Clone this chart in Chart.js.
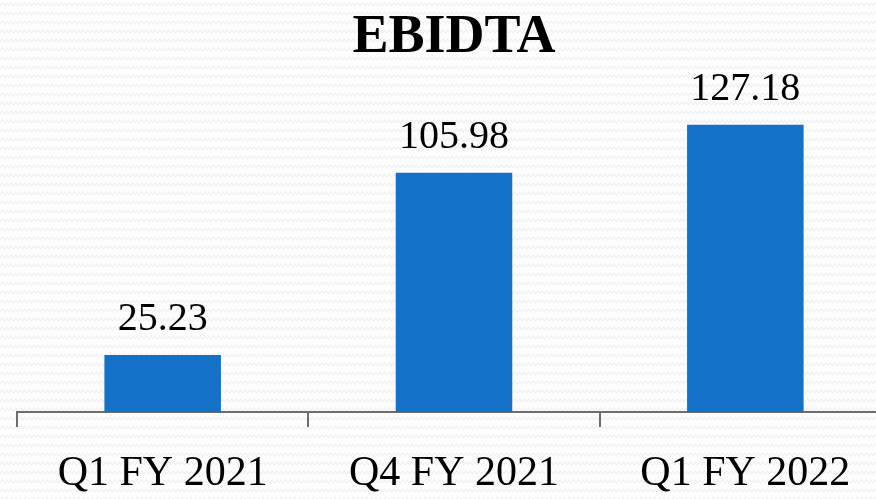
<!DOCTYPE html>
<html>
<head>
<meta charset="utf-8">
<script src="https://cdn.jsdelivr.net/npm/chart.js@4.4.1/dist/chart.umd.min.js"></script>
<style>
  html, body { margin: 0; padding: 0; overflow: hidden; }
  body {
    width: 876px; height: 499px;
    background-color: #fdfdfd;
    background-image: url("data:image/svg+xml;utf8,<svg xmlns='http://www.w3.org/2000/svg' width='9' height='9'><polyline points='0,6 2.25,3 4.5,6 6.75,3 9,6' fill='none' stroke='%23efefef' stroke-width='1.2'/></svg>");
  }
  /* the chart runs a bit past the right and bottom edges, like the cropped original */
  #wrap { position: relative; width: 893px; height: 521px; }
</style>
</head>
<body>
<div id="wrap"><canvas id="main-chart"></canvas></div>
<script>
// values
const categories = ["Q1 FY 2021", "Q4 FY 2021", "Q1 FY 2022"];
const ebitda = [25.23, 105.98, 127.18];
const chartTitle = "EBIDTA";

const FONT = "'Palatino Linotype', 'Book Antiqua', Palatino, 'Liberation Serif', serif";

// draws the value over each bar, outside the chart area clip
const valueLabels = {
  id: "valueLabels",
  afterDatasetsDraw(chart) {
    const ctx = chart.ctx;
    const meta = chart.getDatasetMeta(0);
    ctx.save();
    ctx.font = "40px " + FONT;
    ctx.fillStyle = "#000";
    ctx.textAlign = "center";
    ctx.textBaseline = "alphabetic";
    meta.data.forEach((bar, i) => {
      ctx.fillText(ebitda[i].toFixed(2), bar.x, bar.y - 25);
    });
    ctx.restore();
  }
};

const ctx = document.getElementById("main-chart").getContext("2d");
new Chart(ctx, {
  type: "bar",
  data: {
    labels: categories,
    datasets: [{
      data: ebitda,
      backgroundColor: "#1570c8",
      borderWidth: 0,
      categoryPercentage: 0.8,
      barPercentage: 0.5
    }]
  },
  options: {
    responsive: true,
    maintainAspectRatio: false,
    animation: false,
    layout: { padding: { left: 17, right: 2, top: 0, bottom: 0 } },
    plugins: {
      legend: { display: false },
      tooltip: { enabled: false },
      title: {
        display: true,
        text: chartTitle,
        color: "#000",
        font: { family: FONT, size: 54, weight: "bold" },
        padding: { top: 6, bottom: 2.4 }
      }
    },
    scales: {
      x: {
        grid: {
          drawOnChartArea: false,
          drawTicks: true,
          tickLength: 15,
          color: "#6d6d6d",
          lineWidth: 2
        },
        border: { display: true, color: "#6d6d6d", width: 2 },
        ticks: {
          color: "#000",
          padding: 14,
          font: { family: FONT, size: 42, lineHeight: 1.571 }
        }
      },
      y: {
        display: false,
        min: 0,
        max: 150
      }
    }
  },
  plugins: [valueLabels]
});
</script>
</body>
</html>
